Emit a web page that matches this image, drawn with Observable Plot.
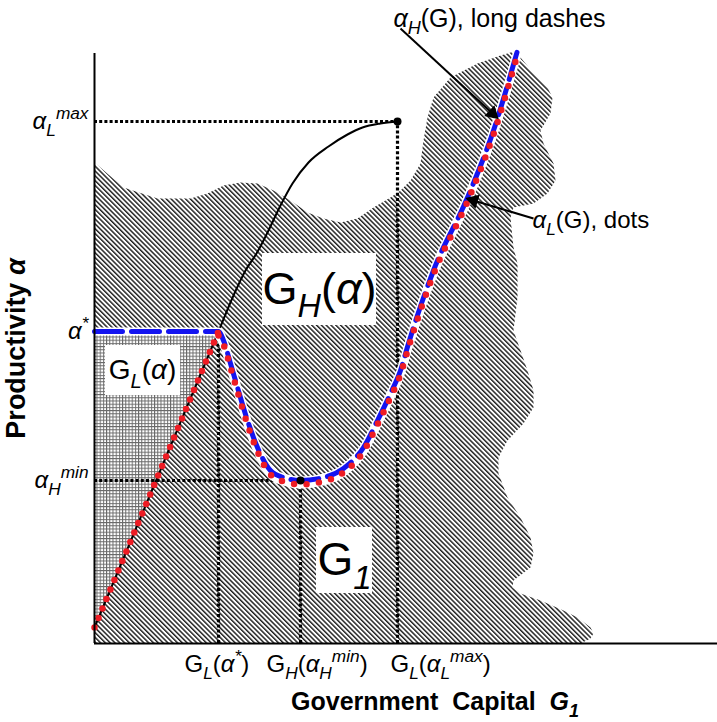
<!DOCTYPE html>
<html><head><meta charset="utf-8">
<script src="https://cdn.jsdelivr.net/npm/d3@7"></script>
<script src="https://cdn.jsdelivr.net/npm/@observablehq/plot@0.6"></script>
<style>body{margin:0;background:#fff;}</style>
</head><body><div id="chart"></div>
<script>
// ---------------- DATA (schematic units) ----------------
const xMax = 124.6, yMax = 118;
const GLstar = 24.8, GHmin = 41.2, GLmax = 60.6;
const alphaStar = 62.4, alphaHmin = 32.6, alphaLmax = 104.4;

const yTickValues = [alphaLmax, alphaStar, alphaHmin];
const yTickLabels = ["α_{L}^{max}", "α^{*}", "α_{H}^{min}"];
const xTickValues = [GLstar, GHmin, GLmax];
const xTickLabels = ["G_{L}(α^{*})", "G_{H}(α_{H}^{min})", "G_{L}(α_{L}^{max})"];

// alpha_H(G): flat at alpha*, then U-shaped, then rising
const alphaH_G = [0, 24.8, 25.8, 27.2, 28.6, 30.6, 32.6, 35.2, 37.8, 41.2, 45.8, 49.8, 53.8, 56.6, 59.2, 61.2, 62.8, 67.8, 74.6, 79.8, 84.6];
const alphaH_a = [62.4, 62.4, 60.6, 56.0, 51.2, 44.6, 39.2, 34.6, 33.2, 32.6, 33.2, 35.0, 39.2, 44.6, 50.0, 54.6, 60.0, 74.6, 89.2, 102.6, 118.6];
// alpha_L(G): straight segment from the origin, then the same U
const alphaLline_G = [0, 24.8];
const alphaLline_a = [3.2, 62.4];
const alphaLU_G = [24.8, 25.8, 27.2, 28.6, 30.6, 32.6, 35.2, 37.8, 41.2, 45.8, 49.8, 53.8, 56.6, 59.2, 61.2, 62.8, 67.8, 74.6, 79.8, 84.6];
const alphaLU_a = [62.4, 60.6, 56.0, 51.2, 44.6, 39.2, 34.6, 33.2, 32.6, 33.2, 35.0, 39.2, 44.6, 50.0, 54.6, 60.0, 74.6, 89.2, 102.6, 118.6];
// solid black curve
const black_G = [0, 24.8, 27.8, 30.2, 32.4, 34.8, 37.2, 39.6, 42.8, 46.8, 50.6, 53.6, 57.2, 60.6];
const black_a = [3.2, 62.4, 69.6, 74.6, 78.0, 82.6, 87.6, 92.0, 96.2, 99.4, 101.8, 103.2, 104.0, 104.4];
// hatched region G_H(alpha)
const blob_G = [0, 0, 5.8, 12.6, 19.2, 22.6, 25.8, 29.2, 32.6, 35.8, 39.2, 42.6, 45.8, 49.2, 52.6, 55.8, 59.2, 61.2, 63.2, 65.2, 65.8, 66.6, 67.8, 71.2, 76.6, 81.2, 84.6, 85.2, 87.8, 90.6, 91.6, 91.2, 89.2, 89.8, 91.8, 92.2, 90.6, 87.8, 83.8, 83.2, 83.8, 84.6, 84.6, 83.8, 85.2, 86.6, 87.8, 87.8, 85.8, 82.6, 80.8, 80.8, 82.6, 85.2, 87.2, 87.8, 87.2, 83.8, 83.6, 85.2, 89.2, 93.8, 96.6, 99.2, 99.8, 99.2, 97.2];
const blob_a = [0, 96.2, 91.2, 89.0, 89.0, 90.0, 91.6, 92.2, 92.0, 90.6, 88.6, 86.2, 85.0, 84.2, 85.0, 87.2, 89.2, 90.6, 92.6, 96.0, 100.6, 105.2, 109.2, 113.2, 116.0, 117.6, 118.6, 117.2, 114.0, 111.2, 109.2, 106.0, 102.6, 100.0, 96.0, 92.6, 90.0, 88.0, 87.2, 85.2, 79.2, 76.0, 69.2, 62.6, 58.6, 54.6, 50.6, 47.2, 44.0, 40.6, 37.2, 34.0, 29.2, 25.2, 21.2, 18.0, 15.2, 12.6, 11.2, 10.0, 8.6, 6.6, 5.2, 3.2, 2.0, 1.0, 0];
// cross-hatched region G_L(alpha)
const grid_G = [0, 24.8, 0];
const grid_a = [62.4, 62.4, 3.2];
// region labels and their white boxes
const regionLabels = ["G_{H}(α)", "G_{L}(α)", "G_{1}"];
const regionG = [45.0, 9.6, 50.0];
const regionA = [70.8, 54.6, 16.6];
const boxX1 = [33.6, 2.2, 44.4], boxX2 = [56.4, 17.2, 55.6];
const boxY1 = [63.6, 49.6, 10.0], boxY2 = [78.0, 59.6, 23.2];
// annotations
const annoLabels = ["α_{H}(G), long dashes", "α_{L}(G), dots"];
const annoG = [59.8, 87.6];
const annoA = [125.0, 84.6];
const arrowFromG = [61.2, 87.8], arrowFromA = [123.0, 85.0];
const arrowToG = [79.6, 75.8], arrowToA = [106.0, 88.6];
const xTitle = "Government\u00a0\u00a0Capital\u00a0\u00a0*{G}_{1}";
const yTitle = "Productivity α";

// ---------------- TABLES ----------------
const pts = (G, a) => G.map((g, i) => ({G: g, a: a[i]}));
const alphaH = pts(alphaH_G, alphaH_a);
const alphaLline = pts(alphaLline_G, alphaLline_a);
const alphaLU = pts(alphaLU_G, alphaLU_a);
const blackCurve = pts(black_G, black_a);
const blob = pts(blob_G, blob_a);
const gridTri = pts(grid_G, grid_a);
const boxes = boxX1.map((x, i) => ({x1: x, x2: boxX2[i], y1: boxY1[i], y2: boxY2[i]}));
const hGuides = [{a: alphaLmax, to: GLmax}, {a: alphaHmin, to: GHmin}];
const vGuides = [{G: GLstar, top: alphaStar}, {G: GHmin, top: alphaHmin}, {G: GLmax, top: alphaLmax}];
const keyDots = [{G: GLmax, a: alphaLmax}, {G: GHmin, a: alphaHmin}];
const yTicks = yTickValues.map((v, i) => ({a: v, label: yTickLabels[i]}));
const xTicks = xTickValues.map((v, i) => ({G: v, label: xTickLabels[i]}));
const arrows = arrowFromG.map((g, i) => ({
  x1: g, y1: arrowFromA[i], x2: arrowToG[i], y2: arrowToA[i],
  // both scales are 5 px per unit, so the data direction is the screen direction
  angle: Math.atan2(arrowToG[i] - g, arrowToA[i] - arrowFromA[i]) * 180 / Math.PI
}));

// layout constants
const xTickShift = [-34, -34, -7];
const regionSize = [45, 28, 46];
const annoSize = [25, 24];
const BLUE = "#1414f0", RED = "#ee1c24";
const dotted = {stroke: "black", strokeWidth: 3.2, strokeDasharray: "3,2.2"};

const chart = Plot.plot({
  width: 717, height: 722,
  marginLeft: 94, marginRight: 0, marginTop: 53, marginBottom: 79,
  x: {domain: [0, xMax], axis: null},
  y: {domain: [0, yMax], axis: null},
  style: {fontFamily: "'Liberation Sans', Arial, sans-serif", background: "white", overflow: "visible"},
  marks: [
    Plot.line(blob, {x: "G", y: "a", fill: "url(#diag)", stroke: "none"}),
    Plot.line(gridTri, {x: "G", y: "a", fill: "url(#grid)", stroke: "none"}),
    Plot.rect(boxes, {x1: "x1", x2: "x2", y1: "y1", y2: "y2", fill: "white"}),
    Plot.ruleY(hGuides, {y: "a", x1: 0, x2: "to", ...dotted}),
    Plot.ruleX(vGuides, {x: "G", y1: 0, y2: "top", ...dotted}),
    Plot.line(blackCurve, {x: "G", y: "a", curve: "monotone-x", stroke: "black", strokeWidth: 2}),
    Plot.line(alphaH, {x: "G", y: "a", curve: "monotone-x", stroke: "white", strokeWidth: 8}),
    Plot.line(alphaLU, {x: "G", y: "a", curve: "monotone-x", dy: 4, stroke: "white", strokeWidth: 8}),
    Plot.line(alphaH, {x: "G", y: "a", curve: "monotone-x", stroke: BLUE, strokeWidth: 5, strokeDasharray: "28,9"}),
    Plot.line(alphaLline, {x: "G", y: "a", stroke: RED, strokeWidth: 6.5, strokeDasharray: "0,10.3", strokeLinecap: "round"}),
    Plot.line(alphaLU, {x: "G", y: "a", curve: "monotone-x", dy: 4, stroke: RED, strokeWidth: 6.5, strokeDasharray: "0,12.5", strokeLinecap: "round"}),
    Plot.dot(keyDots, {x: "G", y: "a", r: 4, fill: "black"}),
    Plot.ruleX([0], {y1: 0, y2: yMax, stroke: "black", strokeWidth: 2}),
    Plot.ruleY([0], {x1: 0, x2: xMax, stroke: "black", strokeWidth: 2}),
    Plot.text(yTicks, {x: 0, y: "a", text: "label", textAnchor: "end", dx: -6, fontSize: 24}),
    ...xTicks.map((t, i) => Plot.text([t], {x: "G", y: 0, text: "label", textAnchor: "start", dx: xTickShift[i], dy: 21, fontSize: 24})),
    ...regionLabels.map((s, i) => Plot.text([s], {x: () => regionG[i], y: () => regionA[i], text: d => d, fontSize: regionSize[i]})),
    ...annoLabels.map((s, i) => Plot.text([s], {x: () => annoG[i], y: () => annoA[i], text: d => d, textAnchor: "start", fontSize: annoSize[i]})),
    Plot.link(arrows, {x1: "x1", y1: "y1", x2: "x2", y2: "y2", stroke: "black", strokeWidth: 2}),
    Plot.dot(arrows, {x: "x2", y: "y2", symbol: "triangle", rotate: "angle", r: 5.5, fill: "black", stroke: "none"}),
    Plot.text([xTitle], {frameAnchor: "bottom", text: d => d, dx: 29, dy: 66, fontSize: 25, fontWeight: "bold"}),
    Plot.text([yTitle], {frameAnchor: "left", textAnchor: "middle", lineAnchor: "middle", text: d => d, rotate: -90, dx: -78, dy: 0, fontSize: 27, fontWeight: "bold"})
  ]
});

document.getElementById("chart").appendChild(chart);

// pattern definitions
const defs = d3.select(chart).insert("defs", ":first-child");
const diag = defs.append("pattern").attr("id", "diag").attr("patternUnits", "userSpaceOnUse")
  .attr("width", 3.4).attr("height", 3.4).attr("patternTransform", "rotate(-45)");
diag.append("rect").attr("width", 3.4).attr("height", 3.4).attr("fill", "#fff");
diag.append("rect").attr("width", 1.45).attr("height", 3.4).attr("fill", "#1e1e1e");
const grid = defs.append("pattern").attr("id", "grid").attr("patternUnits", "userSpaceOnUse")
  .attr("width", 3.2).attr("height", 3.2);
grid.append("rect").attr("width", 3.2).attr("height", 3.2).attr("fill", "#fff");
grid.append("rect").attr("width", 3.2).attr("height", 1).attr("fill", "#6a6a6a");
grid.append("rect").attr("width", 1).attr("height", 3.2).attr("fill", "#6a6a6a");

// rich text: _{sub}, ^{sup}, *{italic}, italic alpha
d3.select(chart).selectAll("text").each(function () {
  const el = this, s = el.textContent;
  if (!/[_^*]\{|α/.test(s)) return;
  const fs = parseFloat(getComputedStyle(el).fontSize) || 20;
  el.textContent = "";
  let off = 0;
  const re = /([_^*])\{([^}]*)\}|(α)|([^_^*α]+)/g;
  let m;
  while ((m = re.exec(s))) {
    const t = document.createElementNS("http://www.w3.org/2000/svg", "tspan");
    let target = 0, size = fs, italic = false, txt;
    if (m[1] === "_") { target = 0.3 * fs; size = 0.72 * fs; italic = true; txt = m[2]; }
    else if (m[1] === "^") { target = -0.42 * fs; size = 0.72 * fs; italic = true; txt = m[2]; }
    else if (m[1] === "*") { italic = true; txt = m[2]; }
    else if (m[3]) { italic = true; txt = m[3]; }
    else txt = m[4];
    if (target - off !== 0) t.setAttribute("dy", target - off);
    off = target;
    t.setAttribute("font-size", size);
    if (italic) t.setAttribute("font-style", "italic");
    t.textContent = txt;
    el.appendChild(t);
  }
});
</script></body></html>
